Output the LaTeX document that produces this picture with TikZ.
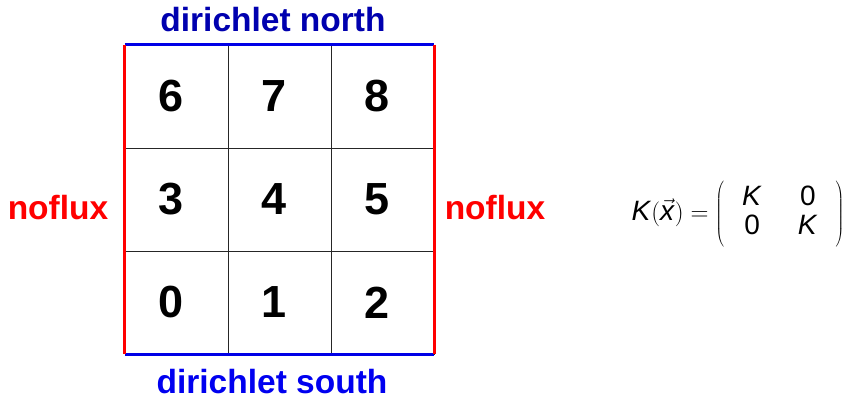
\documentclass[tikz,border=0pt]{standalone}
\usepackage{fontspec}
\setmainfont{Liberation Sans}
\definecolor{northblue}{RGB}{0,0,175}
\definecolor{southblue}{RGB}{0,0,240}
\definecolor{edgeblue}{RGB}{0,0,230}
\begin{document}
\begin{tikzpicture}[x=1pt,y=-1pt,
  cell/.style={draw=black!85,line width=0.8pt,minimum width=103pt,minimum height=103pt,inner sep=0pt},
  digit/.style={font=\fontsize{45}{50}\selectfont\bfseries,inner sep=0pt},
  blabel/.style={font=\fontsize{33.5}{38}\selectfont\bfseries,inner sep=0pt},
  redge/.style={draw=red,line width=2.8pt},
  bedge/.style={draw=edgeblue,line width=3pt},
  formula/.style={font=\fontsize{28}{29}\selectfont,inner sep=0pt}]
\useasboundingbox (0,0) rectangle (852,399);
% cells
\foreach \n/\cx/\cy in {6/176.5/96.5,7/279.5/96.5,8/382.5/96.5,
                        3/176.5/199.5,4/279.5/199.5,5/382.5/199.5,
                        0/176.5/302.5,1/279.5/302.5,2/382.5/302.5}{
  \node[cell] (c\n) at (\cx,\cy) {};
  \node[digit] (d\n) at ([xshift=-5pt]c\n.center) {\n};
}
% boundary edges
\draw[bedge] (c6.north west) -- (c8.north east);
\draw[bedge] (c0.south west) -- (c2.south east);
\draw[redge] (c6.north west) -- (c0.south west);
\draw[redge] (c8.north east) -- (c2.south east);
% labels
\node[blabel,text=northblue] (north) at (273,20) {dirichlet north};
\node[blabel,text=southblue] (south) at (272,382) {dirichlet south};
\node[blabel,text=red] (westl) at (58,208) {noflux};
\node[blabel,text=red] (eastl) at (495,208) {noflux};
% formula
\node[formula] (kx) at (738,214) {%
  \renewcommand{\arraystretch}{1}\setlength{\arraycolsep}{18pt}%
  $\mbox{\textit{K}}(\vec{\mbox{\textit{x}}}) = \left(\vcenter{\hbox{\rule{0pt}{70pt}}}\begin{array}{cc}\mbox{\textit{K}} & \mbox{0}\\ \mbox{0} & \mbox{\textit{K}}\end{array}\right)$};
\end{tikzpicture}
\end{document}
